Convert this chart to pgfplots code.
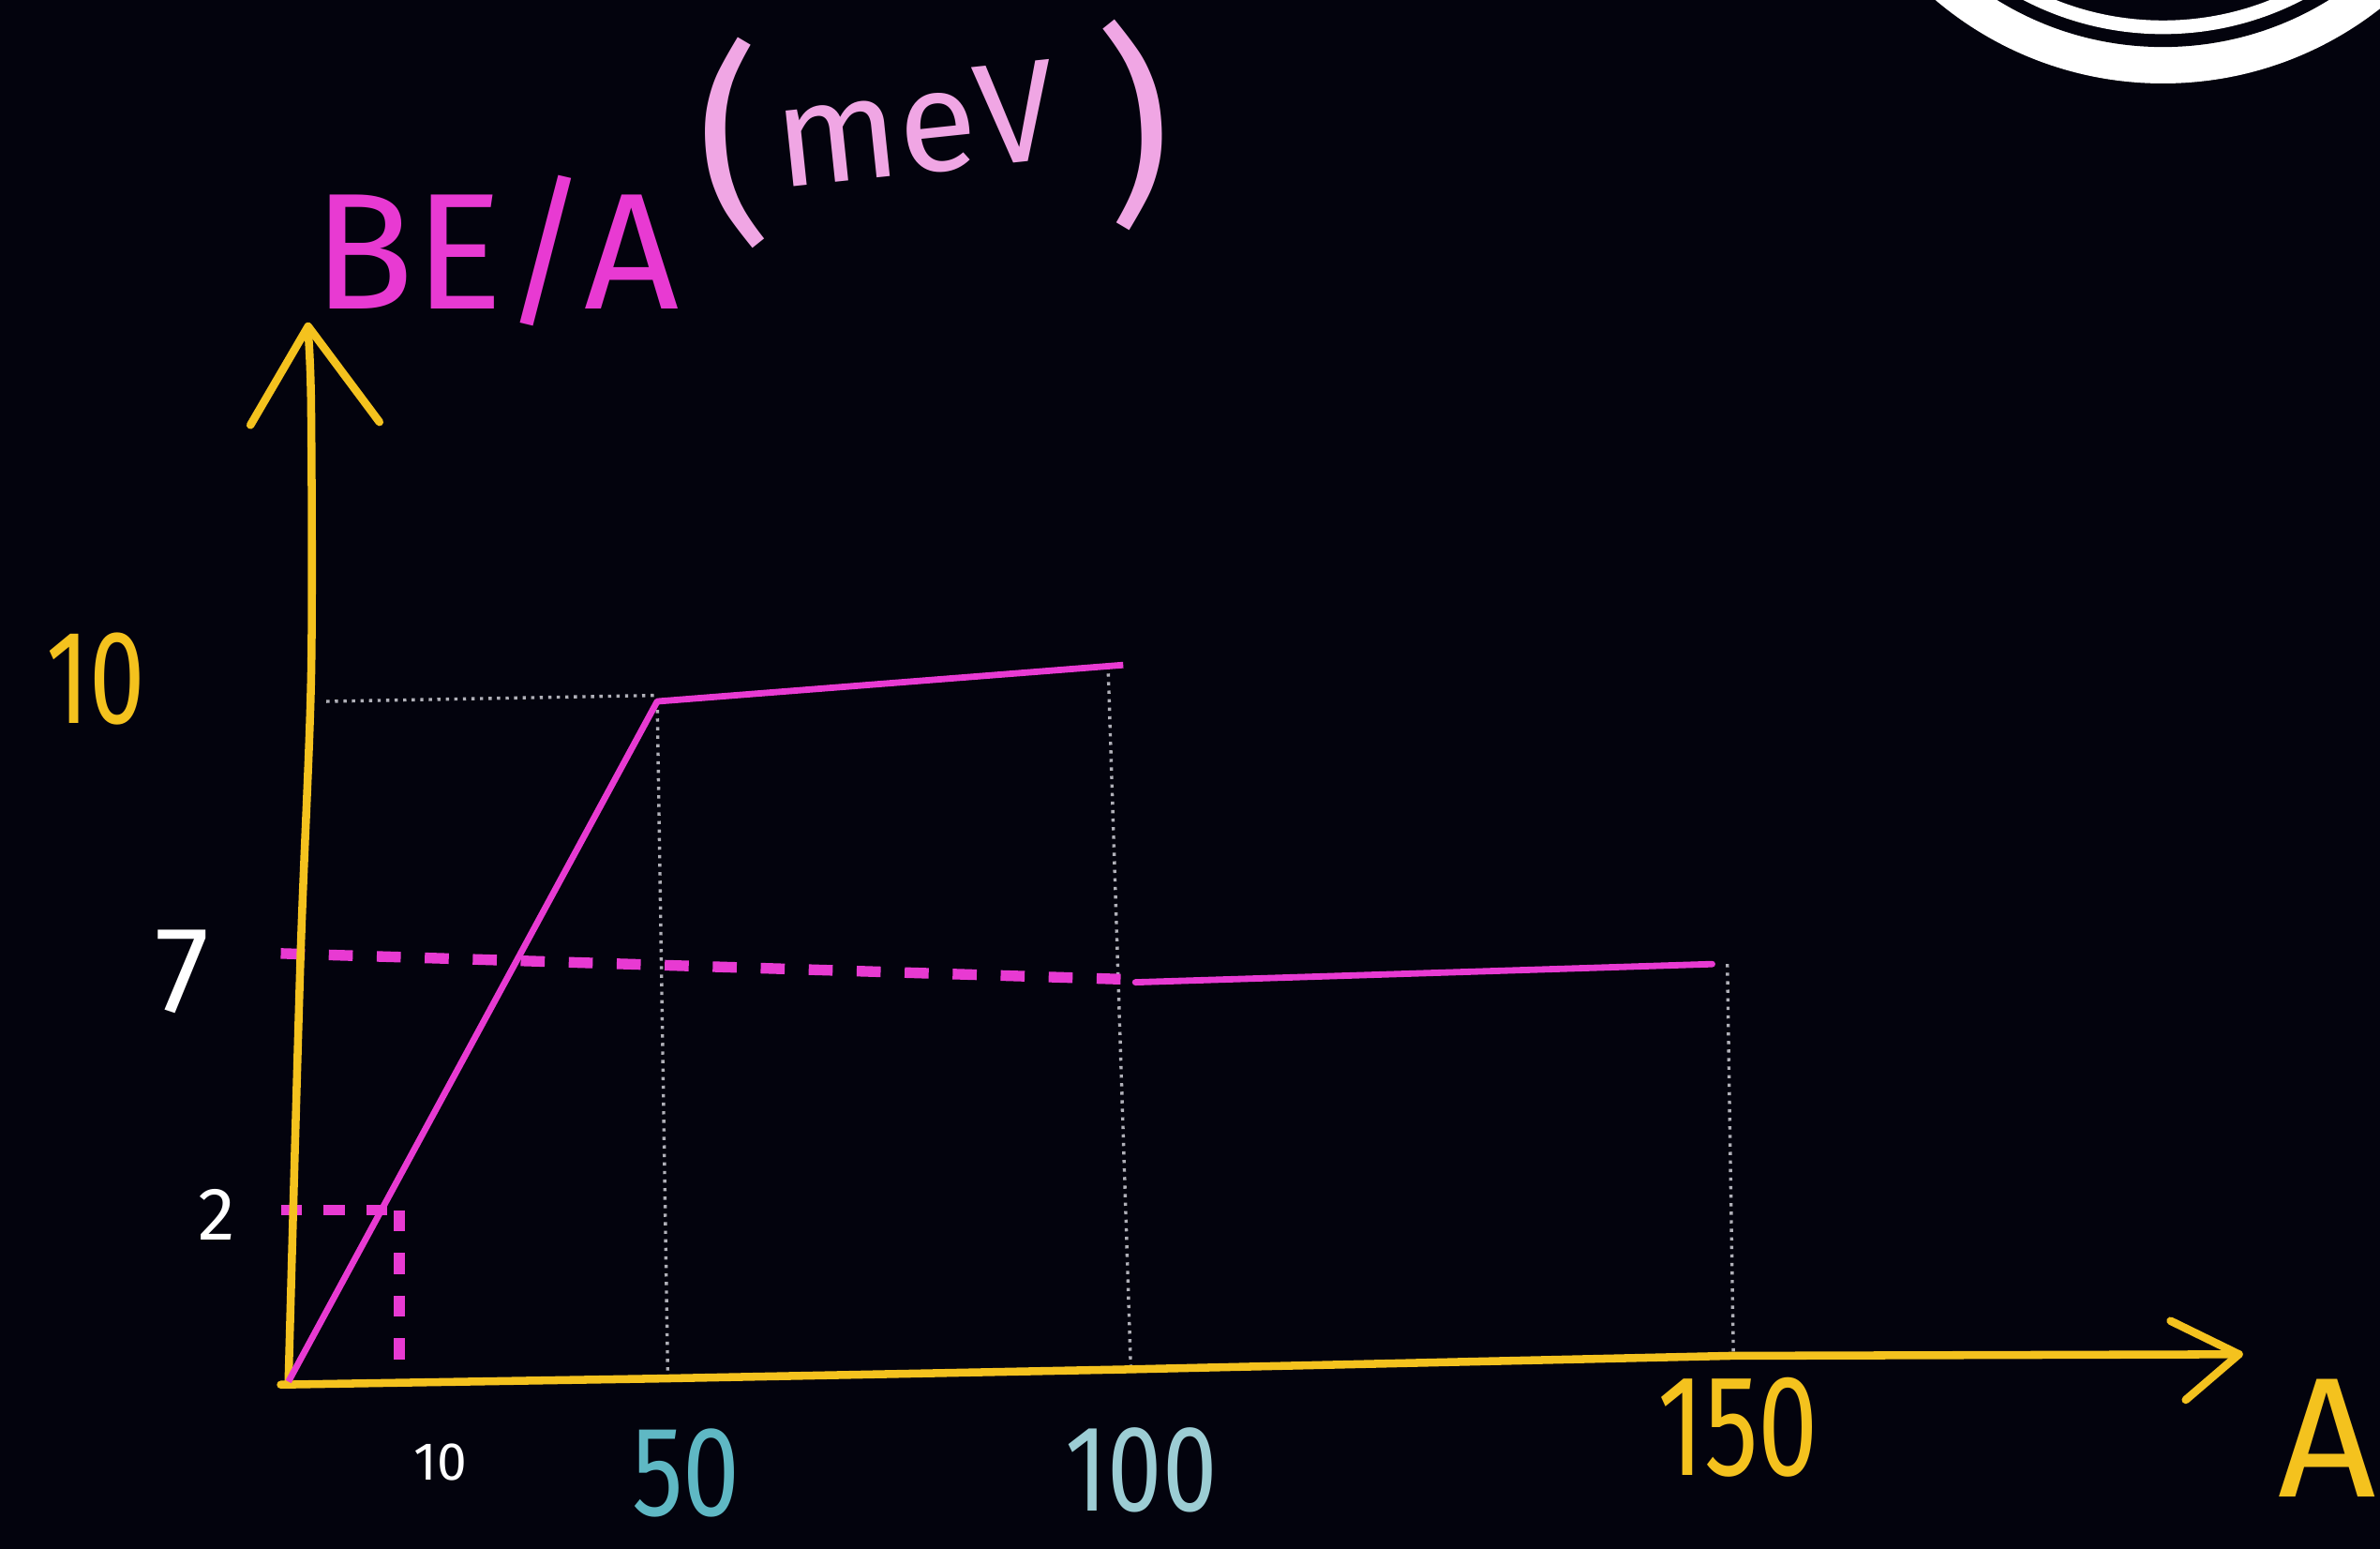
\documentclass[border=0pt]{standalone}
\usepackage{pgfplots}
\pgfplotsset{compat=1.18}
\usepackage{fontspec}
\setmainfont{Fira Sans}
\definecolor{bgc}{HTML}{03030D}
\definecolor{axy}{HTML}{F4C21E}
\definecolor{mag}{HTML}{E83AD2}
\definecolor{pinkl}{HTML}{F0A6E4}
\definecolor{teal1}{HTML}{5FB8C4}
\definecolor{teal2}{HTML}{9CCDD4}
\definecolor{dotc}{HTML}{B0B0B8}
\newcommand{\fs}[1]{\fontsize{#1}{#1}\selectfont}
\begin{document}
\begin{tikzpicture}
\fill[bgc] (0,0) rectangle (15.68,10.2);
\begin{scope}
\clip (0,0) rectangle (15.68,10.2);
\begin{axis}[at={(0,0)}, anchor=south west, scale only axis,
  width=15.68cm, height=10.2cm,
  xmin=-190, xmax=1378, ymin=-110, ymax=910,
  hide axis, clip=false]
% logo (top right)
\fill[white] (axis cs:1235,1087) circle[radius=2.32cm];
\fill[bgc] (axis cs:1235,1087) circle[radius=2.08cm];
\draw[white, line width=0.09cm] (axis cs:1235,1087) circle[radius=1.95cm];
% guide lines (dotted)
\addplot[dotc, densely dotted, line width=0.6pt] coordinates {(25,448) (243,452)};
\addplot[dotc, densely dotted, line width=0.6pt] coordinates {(243,448) (250,0)};
\addplot[dotc, densely dotted, line width=0.6pt] coordinates {(540,472) (555,8)};
\addplot[dotc, densely dotted, line width=0.6pt] coordinates {(948,275) (952,17)};
% dashed markers
\addplot[mag, line width=2pt, dash pattern=on 4.5pt off 4.5pt] coordinates {(-5,282) (550,265)};
\addplot[mag, line width=2pt, dash pattern=on 4pt off 4pt] coordinates {(-5,113) (73,113)};
\addplot[mag, line width=2pt, dash pattern=on 4pt off 4pt] coordinates {(73,113) (73,-2)};
% axes
\addplot[axy, line width=1.5pt, line cap=round, line join=round, smooth] coordinates {(0,-2) (8,280) (15,465) (15,640) (13,692)};
\addplot[axy, line width=1.5pt, line cap=round, line join=round] coordinates {(-25,630) (13,695) (60,632)};
\addplot[axy, line width=1.5pt, line cap=round, line join=round] coordinates {(-5,-2) (243,2) (550,8) (950,17) (1285,18)};
\addplot[axy, line width=1.5pt, line cap=round, line join=round] coordinates {(1240,40) (1285,18) (1250,-12)};
% BE/A curve
\addplot[mag, line width=1.2pt, line join=round] coordinates {(0,0) (243,448) (550,472)};
\addplot[mag, line width=1.2pt, line cap=round] coordinates {(558,263) (938,275)};
% labels
\node[text=mag, font=\fs{31}] at (axis cs:137,745) {BE/A};
\node[text=pinkl, font=\fs{40}, rotate=4] at (axis cs:292,815) {(};
\node[text=pinkl, font=\fs{27}, rotate=6] at (axis cs:413,828) {meV};
\node[text=pinkl, font=\fs{40}, rotate=4] at (axis cs:558,828) {)};
\node[text=axy, font=\fs{25}, xscale=0.75] at (axis cs:-127,463) {10};
\node[text=white, font=\fs{23}] at (axis cs:-70,270) {7};
\node[text=white, font=\fs{14}] at (axis cs:-47,110) {2};
\node[text=white, font=\fs{10}] at (axis cs:100,-53) {10};
\node[text=teal1, font=\fs{24}, xscale=0.8] at (axis cs:262,-60) {50};
\node[text=teal2, font=\fs{23}, xscale=0.8] at (axis cs:562,-58) {100};
\node[text=axy, font=\fs{27}, xscale=0.75] at (axis cs:955,-30) {150};
\node[text=axy, font=\fs{32}] at (axis cs:1343,-37) {A};
\end{axis}
\end{scope}
\pgfresetboundingbox
\useasboundingbox (0,0) rectangle (15.68,10.2);
\end{tikzpicture}
\end{document}
